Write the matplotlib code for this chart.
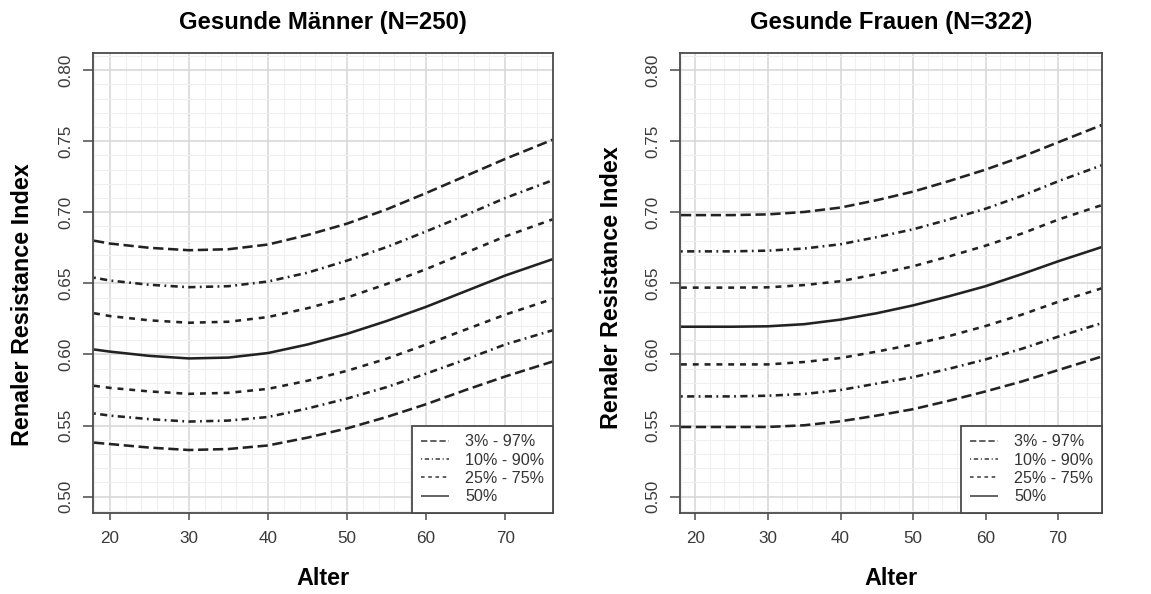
import matplotlib
matplotlib.use("Agg")
import matplotlib.pyplot as plt
from matplotlib.lines import Line2D
from matplotlib.ticker import MultipleLocator, FormatStrFormatter

plt.rcParams['font.family'] = ['Liberation Sans', 'DejaVu Sans']

ages = [18, 20, 25, 30, 35, 40, 45, 50, 55, 60, 65, 70, 76]

# Men (N=250)
men_p03 = [0.538, 0.537, 0.5345, 0.5328, 0.5335, 0.536, 0.5415, 0.548, 0.556, 0.565, 0.575, 0.5845, 0.595]
men_p10 = [0.5585, 0.557, 0.5545, 0.5528, 0.5535, 0.556, 0.562, 0.569, 0.577, 0.5865, 0.5965, 0.607, 0.617]
men_p25 = [0.578, 0.5765, 0.574, 0.5723, 0.573, 0.5758, 0.5815, 0.5885, 0.597, 0.607, 0.6175, 0.628, 0.639]
men_p50 = [0.6035, 0.602, 0.599, 0.5972, 0.5978, 0.601, 0.607, 0.6145, 0.6235, 0.6335, 0.6445, 0.6555, 0.667]
men_p75 = [0.629, 0.627, 0.624, 0.6223, 0.623, 0.6263, 0.6325, 0.640, 0.6495, 0.660, 0.6715, 0.683, 0.695]
men_p90 = [0.654, 0.652, 0.649, 0.6473, 0.648, 0.6513, 0.6575, 0.666, 0.6755, 0.6865, 0.698, 0.710, 0.7225]
men_p97 = [0.680, 0.678, 0.675, 0.6733, 0.674, 0.6773, 0.684, 0.692, 0.702, 0.7135, 0.7255, 0.7375, 0.751]

# Women (N=322)
wom_p03 = [0.549, 0.549, 0.549, 0.549, 0.5502, 0.553, 0.557, 0.5615, 0.5675, 0.574, 0.581, 0.589, 0.5985]
wom_p10 = [0.5705, 0.5705, 0.5705, 0.571, 0.5722, 0.575, 0.5795, 0.584, 0.590, 0.5965, 0.604, 0.6125, 0.622]
wom_p25 = [0.593, 0.593, 0.593, 0.593, 0.5947, 0.5975, 0.602, 0.607, 0.613, 0.620, 0.628, 0.637, 0.6465]
wom_p50 = [0.6195, 0.6195, 0.6195, 0.6198, 0.6213, 0.6245, 0.629, 0.6345, 0.641, 0.648, 0.6565, 0.6655, 0.6755]
wom_p75 = [0.647, 0.647, 0.647, 0.6472, 0.6488, 0.6515, 0.6565, 0.662, 0.669, 0.6765, 0.685, 0.6948, 0.705]
wom_p90 = [0.6725, 0.6725, 0.6725, 0.673, 0.6745, 0.6775, 0.6825, 0.688, 0.695, 0.7025, 0.7115, 0.7218, 0.733]
wom_p97 = [0.698, 0.698, 0.698, 0.6985, 0.7002, 0.7033, 0.7085, 0.7145, 0.722, 0.730, 0.739, 0.7492, 0.7613]

titles = ["Gesunde Männer (N=250)", "Gesunde Frauen (N=322)"]
legend_labels = ["3% - 97%", "10% - 90%", "25% - 75%", "50%"]
x_ticks = [20, 30, 40, 50, 60, 70]
y_ticks = [0.50, 0.55, 0.60, 0.65, 0.70, 0.75, 0.80]

LINE_C = '#222222'
DASH_LONG = (4.0, 1.8)
DASH_DOT = (0.7, 1.7, 2.8, 1.7)
DASH_SHORT = (2.3, 2.3)

fig = plt.figure(figsize=(11.51, 5.94), dpi=100)
ax_l = fig.add_axes([93/1151, 81/594, 460/1151, 460/594])
ax_r = fig.add_axes([680/1151, 81/594, 422/1151, 460/594])

sets = [
    (ax_l, men_p03, men_p10, men_p25, men_p50, men_p75, men_p90, men_p97),
    (ax_r, wom_p03, wom_p10, wom_p25, wom_p50, wom_p75, wom_p90, wom_p97),
]
ylabel_pos = [0.452, 0.491]
ylabel_xpix = [22, 612]

for i, (ax, p03, p10, p25, p50, p75, p90, p97) in enumerate(sets):
    ax.set_xlim(17.87, 76.05)
    ax.set_ylim(0.4885, 0.812)
    ax.xaxis.set_minor_locator(MultipleLocator(2))
    ax.yaxis.set_minor_locator(MultipleLocator(0.01))
    ax.set_xticks(x_ticks)
    ax.set_yticks(y_ticks)
    ax.yaxis.set_major_formatter(FormatStrFormatter('%.2f'))
    ax.grid(which='minor', color='#efefef', lw=0.8, zorder=0)
    ax.grid(which='major', color='#d6d6d6', lw=1.1, zorder=0)
    ax.set_axisbelow(True)

    kw = dict(color=LINE_C, lw=1.85, solid_capstyle='butt', dash_capstyle='butt',
              solid_joinstyle='round', dash_joinstyle='round')
    ax.plot(ages, p97, dashes=DASH_LONG, **kw)
    ax.plot(ages, p03, dashes=DASH_LONG, **kw)
    ax.plot(ages, p90, dashes=DASH_DOT, **kw)
    ax.plot(ages, p10, dashes=DASH_DOT, **kw)
    ax.plot(ages, p75, dashes=DASH_SHORT, **kw)
    ax.plot(ages, p25, dashes=DASH_SHORT, **kw)
    ax.plot(ages, p50, **kw)

    for s in ax.spines.values():
        s.set_color('#4a4a4a')
        s.set_linewidth(1.3)
    ax.tick_params(axis='x', which='major', length=5, width=1.1, color='#4a4a4a',
                   labelsize=12.3, labelcolor='#3a3a3a', pad=8)
    ax.tick_params(axis='y', which='major', length=7, width=1.1, color='#4a4a4a',
                   labelsize=12.3, labelcolor='#3a3a3a', pad=7)
    ax.tick_params(which='minor', length=0)
    for lab in ax.get_yticklabels():
        lab.set_rotation(90)
        lab.set_va('center')

    ax.set_title(titles[i], fontsize=17.2, fontweight='bold', pad=17)
    ax.set_xlabel("Alter", fontsize=16.8, fontweight='bold', labelpad=15)
    ax.set_ylabel("Renaler Resistance Index", fontsize=16.8, fontweight='bold',
                  va='center', ha='center', rotation=90)

    lkw = dict(color='#555555', lw=1.3, solid_capstyle='butt', dash_capstyle='butt')
    handles = [
        Line2D([], [], dashes=(3.5, 1.6), **lkw),
        Line2D([], [], dashes=(0.6, 1.5, 2.4, 1.5), **lkw),
        Line2D([], [], dashes=(2.0, 2.0), **lkw),
        Line2D([], [], **lkw),
    ]
    leg = ax.legend(handles, legend_labels, loc='lower right', fontsize=11.6,
                    frameon=True, fancybox=False, framealpha=1, edgecolor='#4a4a4a',
                    borderaxespad=0, borderpad=0.55, handlelength=1.75,
                    handletextpad=1.0, labelspacing=0.2)
    leg.get_frame().set_linewidth(1.3)
    for t in leg.get_texts():
        t.set_color('#333333')

# place y labels (centre in pixels), left one a little below the axes centre as in the reference
for ax, ypos, xpix in zip([ax_l, ax_r], ylabel_pos, ylabel_xpix):
    xa = (xpix - ax.get_position().x0 * 1151) / (ax.get_position().width * 1151)
    ax.yaxis.set_label_coords(xa, ypos)

fig.savefig("out.png", dpi=100, facecolor='white')
